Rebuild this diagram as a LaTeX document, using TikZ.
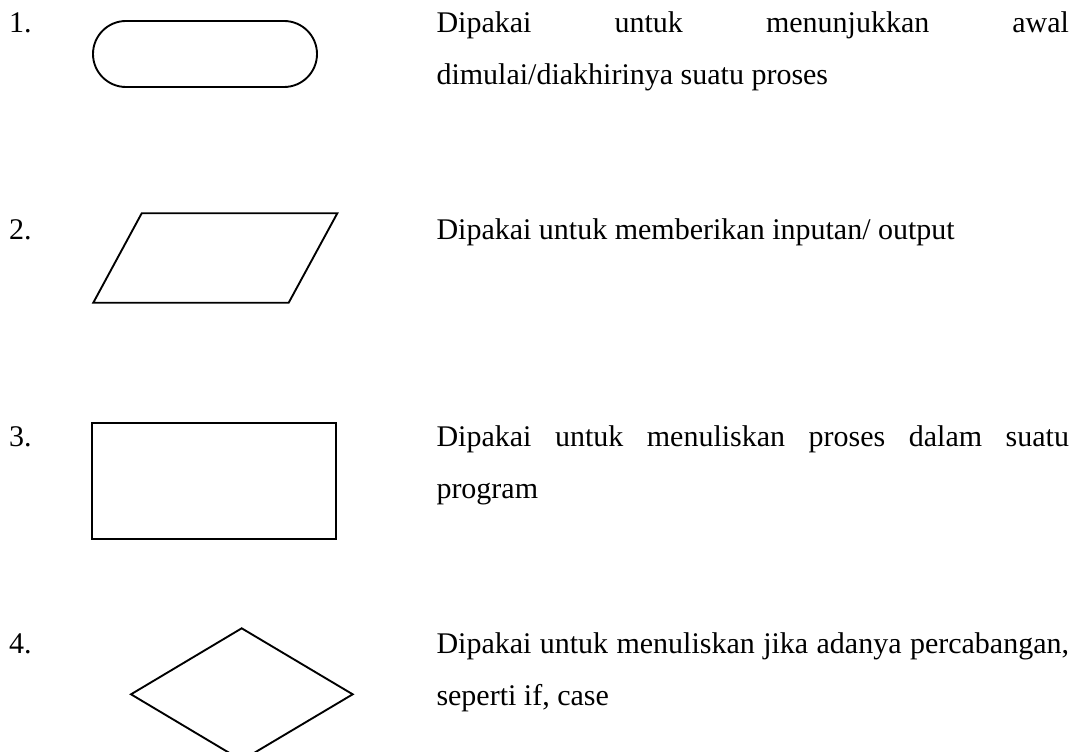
\documentclass[tikz,border=0pt]{standalone}
\usepackage{fontspec}
\setmainfont{Liberation Serif}
\hyphenpenalty=10000
\hbadness=10000
\begin{document}
\begin{tikzpicture}[
  x=0.4pt, y=-0.4pt,
  symbol/.style={line width=0.75pt, line join=miter, draw=black},
  itemnum/.style={anchor=base west, inner sep=0pt, outer sep=0pt,
    font=\fontsize{12pt}{20.7pt}\selectfont},
  itemtext/.style={anchor=base west, inner sep=0pt, outer sep=0pt,
    text width=253pt, align=justify,
    font=\fontsize{12pt}{20.7pt}\selectfont}
]
% page frame
\useasboundingbox (0,0) rectangle (1079,752);
\clip (0,0) rectangle (1079,752);

% 1. terminator
\node[itemnum] (n1) at (9,32.5) {1.};
\draw[symbol, rounded corners=13.2pt] (93,21) rectangle (317,87);
\node[itemtext] (t1) at (436.5,32.5)
  {Dipakai untuk menunjukkan awal\linebreak dimulai/diakhirinya suatu proses};

% 2. input / output
\node[itemnum] (n2) at (9,239.5) {2.};
\draw[symbol] (141.7,213.3) -- (337.3,213.3) -- (288.7,302.7) -- (93.3,302.7) -- cycle;
\node[itemtext] (t2) at (436.5,239.5) {Dipakai untuk memberikan inputan/ output};

% 3. process
\node[itemnum] (n3) at (9,446.5) {3.};
\draw[symbol] (92.3,422.7) rectangle (335.7,539);
\node[itemtext] (t3) at (436.5,446.5)
  {Dipakai untuk menuliskan proses dalam suatu\linebreak program};

% 4. decision
\node[itemnum] (n4) at (9,653.5) {4.};
\draw[symbol] (241.7,628.3) -- (352.7,694.3) -- (241.7,760.3) -- (131,694.3) -- cycle;
\node[itemtext] (t4) at (436.5,653.5)
  {Dipakai untuk menuliskan jika adanya percabangan,\linebreak seperti if, case};
\end{tikzpicture}
\end{document}
